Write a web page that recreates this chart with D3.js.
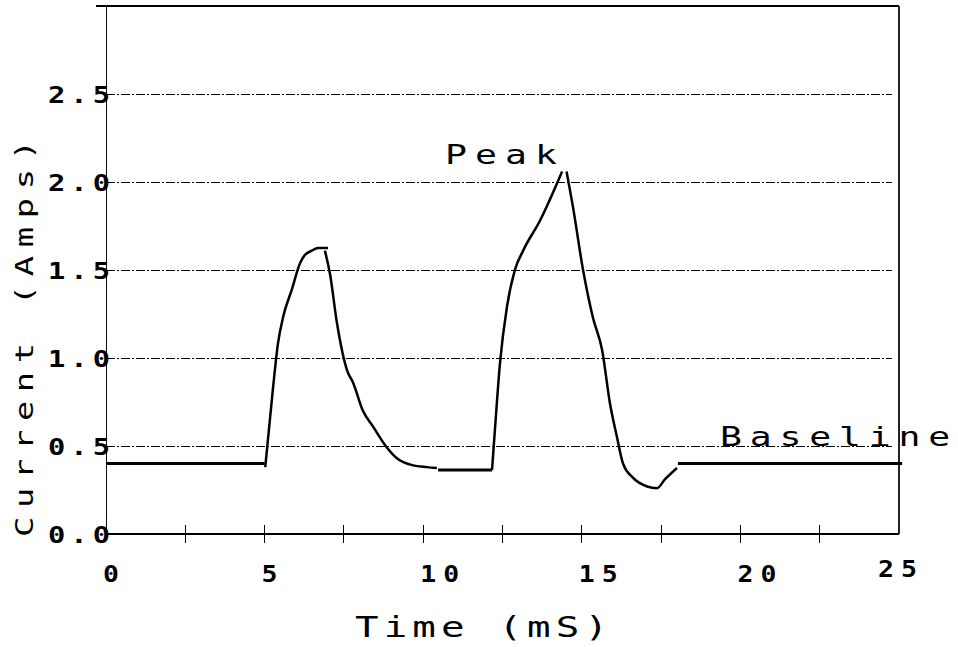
<!DOCTYPE html>
<head>
  <meta charset="utf-8">
  <title>Current vs Time</title>
  <style>
    body { margin: 0; background: #fff; }
    text { font-family: "DejaVu Sans Mono", monospace; fill: #000; }
  </style>
</head>
<body>
  <div id="chart"></div>
  <script src="https://d3js.org/d3.v7.min.js"></script>
  <script>
    // trace pieces, [time (mS), current (A)]
    var baseStart = [[0, 0.40], [5.0, 0.40]];
    var pulse1Rise = [[5.02, 0.38], [5.26, 0.82], [5.42, 1.08], [5.58, 1.23], [5.86, 1.39], [6.12, 1.54],
                      [6.27, 1.585], [6.49, 1.61], [6.68, 1.625], [7.0, 1.625]];
    var pulse1Fall = [[6.9, 1.61], [7.06, 1.48], [7.28, 1.20], [7.6, 0.93], [7.79, 0.86], [8.1, 0.70],
                      [8.42, 0.61], [8.86, 0.49], [9.17, 0.43], [9.68, 0.39], [10.12, 0.38], [10.43, 0.375]];
    var midBase = [[10.47, 0.364], [12.17, 0.364]];
    var pulse2Rise = [[12.17, 0.364], [12.26, 0.59], [12.42, 0.97], [12.64, 1.29], [12.89, 1.50],
                      [13.15, 1.61], [13.68, 1.78], [14.38, 2.06]];
    var pulse2Fall = [[14.52, 2.06], [14.72, 1.86], [15.04, 1.50], [15.35, 1.23], [15.64, 1.045],
                      [15.89, 0.74], [16.11, 0.55], [16.30, 0.40], [16.61, 0.32], [17.06, 0.27],
                      [17.37, 0.26], [17.62, 0.31], [18.0, 0.375]];
    var baseEnd = [[18.03, 0.40], [25.1, 0.40]];

    var flats = [baseStart, midBase, baseEnd];
    var curves = [pulse1Rise, pulse1Fall, pulse2Rise, pulse2Fall];

    var gridValues = [0.5, 1.0, 1.5, 2.0, 2.5];
    var yTickLabels = ["0.0", "0.5", "1.0", "1.5", "2.0", "2.5"];
    var yTickValues = [0, 0.5, 1.0, 1.5, 2.0, 2.5];
    var xTickValues = [0, 5, 10, 15, 20, 25];
    var xMinorTicks = [0, 2.5, 5, 7.5, 10, 12.5, 15, 17.5, 20, 22.5, 25];

    var width = 958, height = 647;

    var x = d3.scaleLinear().domain([0, 25]).range([106, 899]);
    var y = d3.scaleLinear().domain([0, 3]).range([534, 6]);

    var svg = d3.select("#chart")
      .append("svg")
      .attr("width", width)
      .attr("height", height);

    // plotter lettering is wide, so stretch glyphs sideways and spread them to the given length
    function label(sel, px, py, str, size, len, sx, extra) {
      var t = sel.append("text")
        .attr("transform", "translate(" + px + "," + py + ")" + (extra || "") + " scale(" + sx + ",1)")
        .attr("font-size", size)
        .text(str);
      if (str.length > 1) t.attr("textLength", len / sx).attr("lengthAdjust", "spacing");
      return t;
    }

    // dash-dot grid
    svg.append("g")
      .attr("shape-rendering", "crispEdges")
      .selectAll("line")
      .data(gridValues)
      .enter().append("line")
        .attr("x1", x(0))
        .attr("x2", x(24.78))
        .attr("y1", function(d) { return y(d); })
        .attr("y2", function(d) { return y(d); })
        .attr("stroke", "#000")
        .attr("stroke-width", 1)
        .attr("stroke-dasharray", "9,2,2,2");

    // frame
    var frame = svg.append("g").attr("shape-rendering", "crispEdges");
    frame.append("line")
      .attr("x1", x(0) - 10).attr("x2", x(25))
      .attr("y1", y(3)).attr("y2", y(3))
      .attr("stroke", "#000").attr("stroke-width", 2);
    frame.append("line")
      .attr("x1", x(25)).attr("x2", x(25))
      .attr("y1", y(3)).attr("y2", y(0))
      .attr("stroke", "#222").attr("stroke-width", 1.5);
    frame.append("line")
      .attr("x1", x(0)).attr("x2", x(0))
      .attr("y1", y(3)).attr("y2", y(0))
      .attr("stroke", "#111").attr("stroke-width", 1);
    frame.append("line")
      .attr("x1", x(0)).attr("x2", x(25))
      .attr("y1", y(0)).attr("y2", y(0))
      .attr("stroke", "#000").attr("stroke-width", 2);

    // x ticks cross the axis
    frame.append("g")
      .selectAll("line")
      .data(xMinorTicks.slice(1, -1))
      .enter().append("line")
        .attr("x1", function(d) { return x(d); })
        .attr("x2", function(d) { return x(d); })
        .attr("y1", y(0) - 9)
        .attr("y2", y(0) + 9)
        .attr("stroke", "#000")
        .attr("stroke-width", 1);

    // x tick labels
    var xl = svg.append("g").attr("font-weight", "bold");
    xTickValues.forEach(function(d, i) {
      var last = i == xTickValues.length - 1;
      label(xl, last ? x(d) - 21 : x(d) - 3, last ? y(0) + 43 : y(0) + 48,
            String(d), 23, 39, 1.15);
    });

    // y tick labels
    var yl = svg.append("g").attr("font-weight", "bold");
    yTickValues.forEach(function(d, i) {
      label(yl, x(0) - 58, y(d) + 9, yTickLabels[i], 23, 62, 1.25);
    });

    var line = d3.line()
      .x(function(d) { return x(d[0]); })
      .y(function(d) { return y(d[1]); });
    var smooth = d3.line()
      .x(function(d) { return x(d[0]); })
      .y(function(d) { return y(d[1]); })
      .curve(d3.curveMonotoneX);

    svg.append("g")
      .selectAll("path")
      .data(flats)
      .enter().append("path")
        .attr("d", line)
        .attr("fill", "none")
        .attr("stroke", "#000")
        .attr("stroke-width", 3);

    svg.append("g")
      .selectAll("path")
      .data(curves)
      .enter().append("path")
        .attr("d", smooth)
        .attr("fill", "none")
        .attr("stroke", "#000")
        .attr("stroke-width", 2.5)
        .attr("stroke-linejoin", "round");

    // annotations
    label(svg, x(14.22) - 112, y(2.10), "Peak", 27, 112, 1.35);
    label(svg, x(19.36), y(0.5), "Baseline", 27, 230, 1.35);

    // axis titles
    label(svg, 355, 637, "Time (mS)", 29, 253, 1.35);
    label(svg, 33, 537, "Current (Amps)", 25, 397, 1.35, " rotate(-90)");
  </script>
</body>
